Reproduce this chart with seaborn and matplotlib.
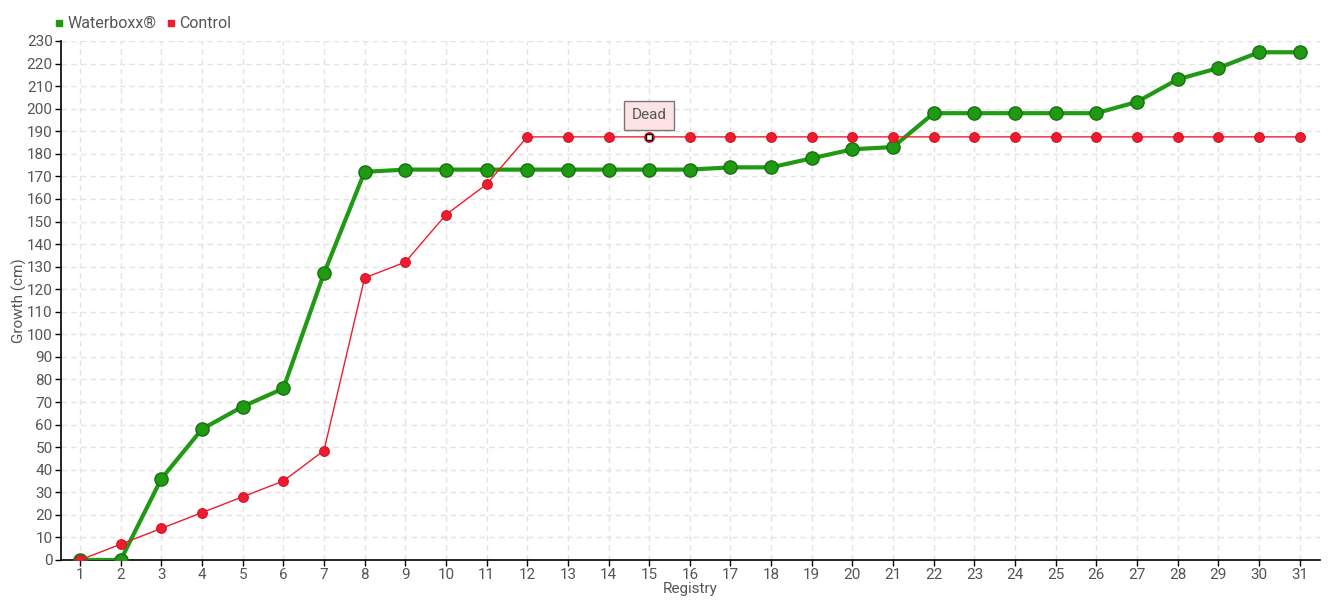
import pandas as pd
import seaborn as sns
import matplotlib.pyplot as plt

# Data
registry = list(range(1, 32))
waterboxx = [0, 0, 36, 58, 68, 76, 127, 172, 173, 173, 173, 173, 173, 173, 173, 173,
             174, 174, 178, 182, 183, 198, 198, 198, 198, 198, 203, 213, 218, 225, 225]
control = [0, 7, 14, 21, 28, 35, 48.5, 125, 132, 153, 166.5] + [187.5] * 20
y_ticks = list(range(0, 231, 10))

GREEN = '#1f9a12'
RED = '#ee1c2e'
TXT = '#555555'

sns.set_theme(style='white')
plt.rcParams['font.family'] = ['Roboto', 'DejaVu Sans']

df = pd.DataFrame({'Registry': registry, 'Waterboxx': waterboxx, 'Control': control})

fig = plt.figure(figsize=(13.4, 6), dpi=100)
ax = fig.add_axes([0.0455, 0.0667, 0.9395, 0.865])

sns.lineplot(data=df, x='Registry', y='Waterboxx', ax=ax, color=GREEN, lw=3,
             marker='o', markersize=9.5, markeredgecolor='#17700f', markeredgewidth=1,
             zorder=3)
sns.lineplot(data=df, x='Registry', y='Control', ax=ax, color=RED, lw=1,
             marker='o', markersize=7, markeredgecolor='#d41424', markeredgewidth=0.8,
             zorder=4)

# "Dead" marker on control at registry 15
i = registry.index(15)
ax.plot(15, control[i], marker='s', markersize=4, markerfacecolor='white',
        markeredgecolor='black', markeredgewidth=1, zorder=6)
ax.annotate('Dead', xy=(15, control[i]), xytext=(15, control[i] + 9.5),
            ha='center', va='center', fontsize=11, color=TXT, zorder=7,
            bbox=dict(boxstyle='square,pad=0.5', fc='#fde3e3', ec='#777777', lw=1))

ax.set_xlim(0.53, 31.5)
ax.set_ylim(0, 230)
ax.set_xticks(registry)
ax.set_yticks(y_ticks)
ax.grid(True, color='#e3e3e3', linestyle=(0, (4, 3)), lw=1)
ax.set_axisbelow(True)
for s in ['top', 'right']:
    ax.spines[s].set_visible(False)
for s in ['left', 'bottom']:
    ax.spines[s].set_color('black')
    ax.spines[s].set_linewidth(1.2)
ax.tick_params(axis='both', colors='black', labelcolor=TXT, labelsize=11,
               length=4, width=1, direction='out', left=True, bottom=True, pad=2)
ax.set_xlabel('Registry', color=TXT, fontsize=11, labelpad=0)
ax.set_ylabel('Growth (cm)', color=TXT, fontsize=11, labelpad=0)

# Legend at top left
handles = [plt.Line2D([], [], ls='', marker='s', markersize=5, color=GREEN),
           plt.Line2D([], [], ls='', marker='s', markersize=5, color=RED)]
fig.legend(handles, ['Waterboxx®', 'Control'], loc='upper left',
           bbox_to_anchor=(0.03, 0.997), ncol=2, frameon=False, fontsize=11.5,
           handlelength=0.6, handletextpad=0.2, columnspacing=0.6,
           labelcolor=TXT)

fig.savefig('out.png', dpi=100)
